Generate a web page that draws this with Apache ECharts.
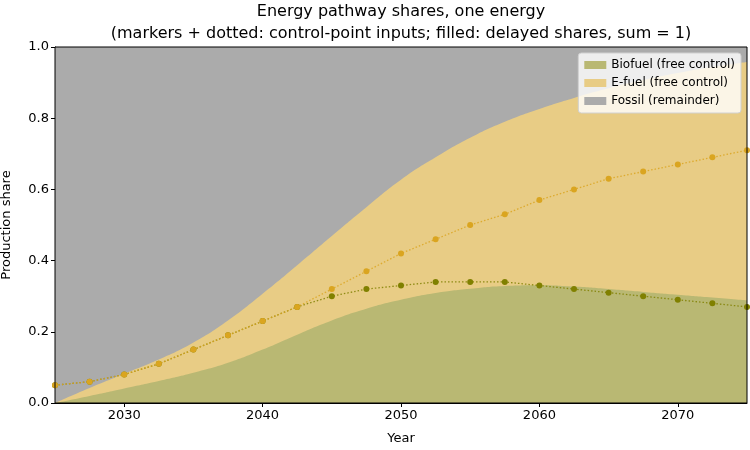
<!DOCTYPE html>
<html>
<head>
<meta charset="utf-8">
<script src="https://cdn.jsdelivr.net/npm/echarts@6/dist/echarts.min.js"></script>
<style>
  html, body { margin: 0; padding: 0; background: #fff; }
  #chart { width: 750px; height: 450px; }
</style>
</head>
<body>
<div id="chart"></div>
<script>
// control-point years (every 2.5 years)
var years = [2025, 2027.5, 2030, 2032.5, 2035, 2037.5, 2040, 2042.5, 2045, 2047.5, 2050,
  2052.5, 2055, 2057.5, 2060, 2062.5, 2065, 2067.5, 2070, 2072.5, 2075];

// control-point inputs (markers)
var bioCtrl = [0.05, 0.06, 0.08, 0.11, 0.15, 0.19, 0.23, 0.27, 0.30, 0.32, 0.33,
  0.34, 0.34, 0.34, 0.33, 0.32, 0.31, 0.30, 0.29, 0.28, 0.27];
var efuelCtrl = [0.05, 0.06, 0.08, 0.11, 0.15, 0.19, 0.23, 0.27, 0.32, 0.37, 0.42,
  0.46, 0.50, 0.53, 0.57, 0.60, 0.63, 0.65, 0.67, 0.69, 0.71];

// delayed shares (filled bands)
var bioDelayed = [0, 0.02, 0.041, 0.062, 0.085, 0.113, 0.15, 0.192, 0.232, 0.265, 0.29,
  0.309, 0.321, 0.329, 0.331, 0.327, 0.32, 0.312, 0.304, 0.296, 0.288];
var efuelDelayed = [0, 0.022, 0.041, 0.06, 0.085, 0.119, 0.157, 0.195, 0.237, 0.285, 0.337,
  0.381, 0.424, 0.461, 0.495, 0.53, 0.564, 0.595, 0.623, 0.648, 0.67];

var xTicks = [2030, 2040, 2050, 2060, 2070];

function pairs(vals) {
  return years.map(function (y, i) { return [y, vals[i]]; });
}

// e-fuel band sits on top of biofuel; fossil is the remainder up to 1
var efuelTop = bioDelayed.map(function (b, i) { return b + efuelDelayed[i]; });

var mychart = echarts.init(document.getElementById('chart'));
var font = 'DejaVu Sans';

var option = {
  animation: false,
  textStyle: { fontFamily: font },
  title: {
    text: 'Energy pathway shares, one energy\n(markers + dotted: control-point inputs; filled: delayed shares, sum = 1)',
    left: 401,
    top: 1,
    padding: 0,
    textAlign: 'center',
    textStyle: { fontSize: 16, fontWeight: 'normal', color: '#000', lineHeight: 22, fontFamily: font }
  },
  legend: {
    data: ['Biofuel (free control)', 'E-fuel (free control)', 'Fossil (remainder)'],
    orient: 'vertical',
    right: 9,
    top: 53,
    icon: 'rect',
    itemWidth: 22,
    itemHeight: 8,
    itemGap: 6,
    padding: [6, 6, 6, 6],
    backgroundColor: 'rgba(255,255,255,0.8)',
    borderColor: '#d0d0d0',
    borderWidth: 1,
    borderRadius: 3,
    textStyle: { fontSize: 12, color: '#000', fontFamily: font }
  },
  grid: {
    left: 55, right: 3, top: 47, bottom: 47,
    outerBoundsMode: 'none',
    containLabel: false,
    show: true,
    borderColor: '#000',
    borderWidth: 1,
    backgroundColor: 'transparent',
    z: 10
  },
  xAxis: {
    type: 'value',
    min: 2025,
    max: 2075,
    name: 'Year',
    nameLocation: 'middle',
    nameGap: 29,
    nameTextStyle: { fontSize: 13, color: '#000' },
    axisLine: { show: true, lineStyle: { color: '#000' } },
    axisTick: { show: true, customValues: xTicks, length: 4, lineStyle: { color: '#000' } },
    axisLabel: { customValues: xTicks, fontSize: 13, color: '#000', margin: 6, formatter: function (v) { return String(v); } },
    splitLine: { show: false }
  },
  yAxis: {
    type: 'value',
    min: 0,
    max: 1,
    interval: 0.2,
    name: 'Production share',
    nameLocation: 'middle',
    nameGap: 42,
    nameTextStyle: { fontSize: 13, color: '#000' },
    axisLine: { show: true, lineStyle: { color: '#000' } },
    axisTick: { show: true, length: 4, lineStyle: { color: '#000' } },
    axisLabel: { fontSize: 13, color: '#000', margin: 6, formatter: function (v) { return v.toFixed(1); } },
    splitLine: { show: false }
  },
  series: [
    {
      name: 'Fossil (remainder)',
      type: 'line',
      data: [[2025, 1], [2075, 1]],
      symbol: 'none',
      lineStyle: { width: 0 },
      itemStyle: { color: '#ababab' },
      areaStyle: { color: '#ababab', opacity: 1 },
      z: 1
    },
    {
      name: 'E-fuel (free control)',
      type: 'line',
      smooth: 0.5,
      data: pairs(efuelTop),
      symbol: 'none',
      lineStyle: { width: 0 },
      itemStyle: { color: '#e8cc85' },
      areaStyle: { color: '#e8cc85', opacity: 1 },
      z: 2
    },
    {
      name: 'Biofuel (free control)',
      type: 'line',
      smooth: 0.5,
      data: pairs(bioDelayed),
      symbol: 'none',
      lineStyle: { width: 0 },
      itemStyle: { color: '#b9b873' },
      areaStyle: { color: '#b9b873', opacity: 1 },
      z: 3
    },
    {
      name: 'Biofuel control',
      type: 'line',
      data: pairs(bioCtrl),
      symbol: 'circle',
      symbolSize: 6,
      itemStyle: { color: '#808000' },
      lineStyle: { color: '#808000', width: 1.3, type: [1.5, 2], opacity: 0.85 },
      z: 4
    },
    {
      name: 'E-fuel control',
      type: 'line',
      data: pairs(efuelCtrl),
      symbol: 'circle',
      symbolSize: 6,
      itemStyle: { color: '#daa520' },
      lineStyle: { color: '#daa520', width: 1.3, type: [1.5, 2], opacity: 0.85 },
      z: 5
    }
  ]
};

mychart.setOption(option);
</script>
</body>
</html>
